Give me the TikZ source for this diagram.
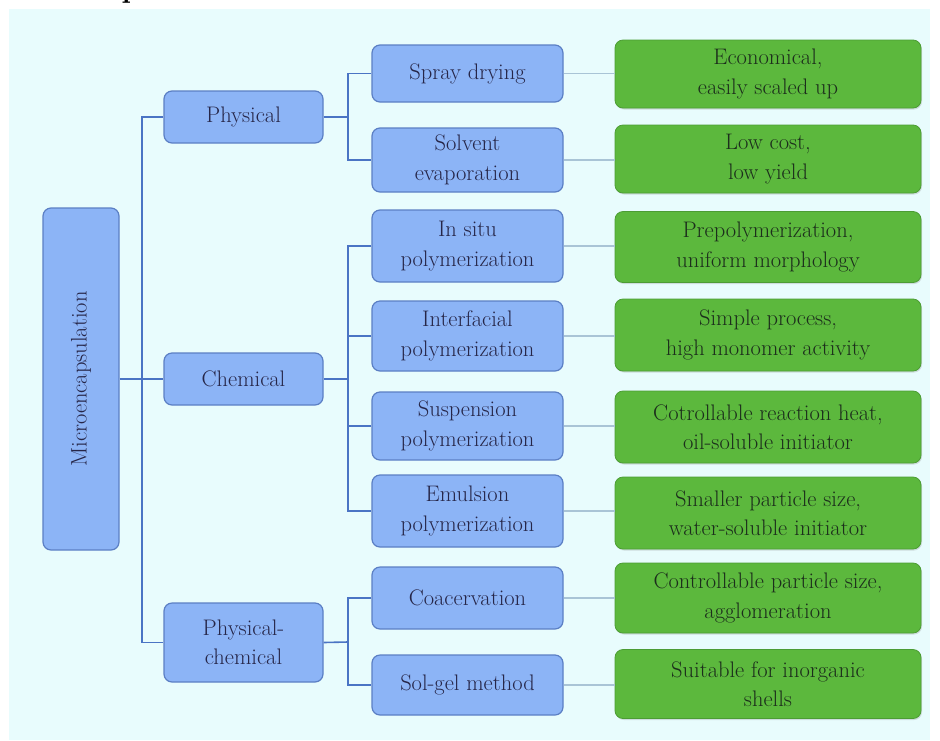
\documentclass[tikz,border=0pt]{standalone}
\usetikzlibrary{shadows}
\definecolor{bgc}{HTML}{E8FCFD}
\definecolor{bluef}{HTML}{8CB4F6}
\definecolor{blued}{HTML}{5B7FC4}
\definecolor{linec}{HTML}{4A74C4}
\definecolor{linkc}{HTML}{A9C4D6}
\definecolor{greenf}{HTML}{5CB83D}
\definecolor{greend}{HTML}{4C9C34}
\definecolor{txtb}{HTML}{262648}
\definecolor{txtg}{HTML}{1C2E1C}
\begin{document}
\begin{tikzpicture}[x=1pt,y=-1pt,
  bbox/.style={draw=blued, line width=1.2pt, fill=bluef, rounded corners=8pt, text=txtb,
     align=center, inner sep=0pt, font=\fontsize{22.5}{29.5}\selectfont},
  gbox/.style={draw=greend, line width=0.8pt, fill=greenf, rounded corners=8pt, text=txtg,
     align=center, inner sep=0pt, font=\fontsize{22.5}{29.5}\selectfont,
     drop shadow={shadow xshift=1pt, shadow yshift=-1.5pt, opacity=0.25}},
  tree/.style={draw=linec, line width=1.6pt},
  link/.style={draw=linkc, line width=1.1pt}]
\useasboundingbox (0,0) rectangle (940,740);
\fill[white] (0,0) rectangle (940,740);
\fill[bgc] (9,9) rectangle (930,740);
\node[anchor=base, font=\bfseries\fontsize{30}{30}\selectfont] (frag) at (131,-3) {p};
% root
\node[bbox, minimum width=76pt, minimum height=342pt] (root) at (81,379) {};
\node[rotate=90, text=txtb, font=\fontsize{22.5}{29.5}\selectfont] (roottxt) at (root.center) {Microencapsulation};
% level 1
\node[bbox, minimum width=159pt, minimum height=52pt] (phy) at (243.5,117) {Physical};
\node[bbox, minimum width=159pt, minimum height=52pt] (che) at (243.5,379) {Chemical};
\node[bbox, minimum width=159pt, minimum height=79pt] (pc) at (243.5,642.5) {Physical-\\chemical};
% level 2
\node[bbox, minimum width=191pt, minimum height=57pt] (spray) at (467.5,73.5) {Spray drying};
\node[bbox, minimum width=191pt, minimum height=64pt] (solv) at (467.5,160) {Solvent\\evaporation};
\node[bbox, minimum width=191pt, minimum height=72pt] (insitu) at (467.5,246) {In situ\\polymerization};
\node[bbox, minimum width=191pt, minimum height=70pt] (inter) at (467.5,336) {Interfacial\\polymerization};
\node[bbox, minimum width=191pt, minimum height=68pt] (susp) at (467.5,426) {Suspension\\polymerization};
\node[bbox, minimum width=191pt, minimum height=72pt] (emul) at (467.5,511) {Emulsion\\polymerization};
\node[bbox, minimum width=191pt, minimum height=62pt] (coac) at (467.5,598) {Coacervation};
\node[bbox, minimum width=191pt, minimum height=60pt] (solgel) at (467.5,685) {Sol-gel method};
% green
\node[gbox, minimum width=306pt, minimum height=68pt] (g1) at (768,74) {Economical,\\easily scaled up};
\node[gbox, minimum width=306pt, minimum height=68pt] (g2) at (768,159) {Low cost,\\low yield};
\node[gbox, minimum width=306pt, minimum height=71pt] (g3) at (768,247) {Prepolymerization,\\uniform morphology};
\node[gbox, minimum width=306pt, minimum height=72pt] (g4) at (768,335) {Simple process,\\high monomer activity};
\node[gbox, minimum width=306pt, minimum height=72pt] (g5) at (768,427) {Cotrollable reaction heat,\\oil-soluble initiator};
\node[gbox, minimum width=306pt, minimum height=72pt] (g6) at (768,513) {Smaller particle size,\\water-soluble initiator};
\node[gbox, minimum width=306pt, minimum height=70pt] (g7) at (768,598) {Controllable particle size,\\agglomeration};
\node[gbox, minimum width=306pt, minimum height=69pt] (g8) at (768,684) {Suitable for inorganic\\shells};
% junction coordinates
\coordinate (j0) at (142,379);
\coordinate (j1) at (348,117);
\coordinate (j2) at (348,379);
\coordinate (j3) at (348,642);
% tree lines
\draw[tree] (root.east) -- (che.west);
\draw[tree] (phy.west) -| (j0) |- (pc.west);
\draw[tree] (phy.east) -- (j1);
\draw[tree] (spray.west) -| (j1) |- (solv.west);
\draw[tree] (che.east) -- (j2);
\draw[tree] (insitu.west) -| (j2) |- (emul.west);
\draw[tree] (inter.west) -| (j2);
\draw[tree] (susp.west) -| (j2);
\draw[tree] (pc.east) -- (j3);
\draw[tree] (coac.west) -| (j3) |- (solgel.west);
% links
\foreach \a/\b in {spray/g1,solv/g2,insitu/g3,inter/g4,susp/g5,emul/g6,coac/g7,solgel/g8}
  \draw[link] (\a.east) -- (\a.east -| \b.west);
\end{tikzpicture}
\end{document}
